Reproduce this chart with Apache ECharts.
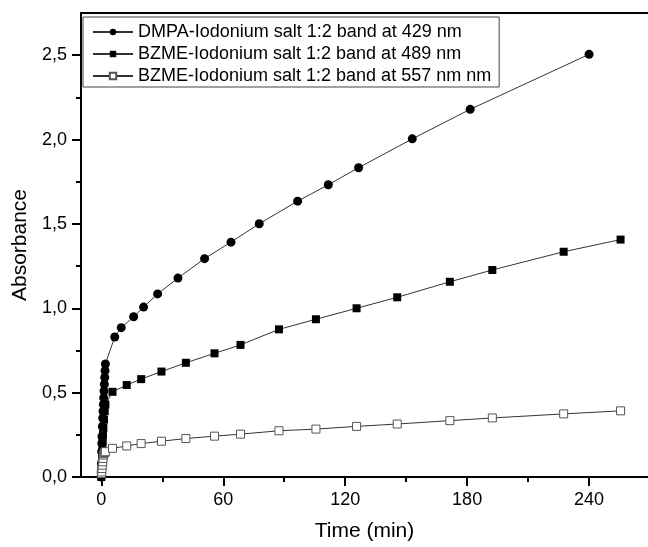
<!DOCTYPE html>
<html>
<head>
<meta charset="utf-8">
<script src="https://cdn.jsdelivr.net/npm/echarts@6/dist/echarts.min.js"></script>
<style>
  html, body { margin: 0; padding: 0; background: #fff; }
  #chart { width: 648px; height: 547px; }
</style>
</head>
<body>
<div id="chart"></div>
<script>
// DMPA band at 429 nm
const dmpaTime = [0, 0.08, 0.17, 0.25, 0.33, 0.5, 0.67, 0.83, 1.0, 1.17, 1.33, 1.5, 1.67, 1.83, 2.0,
    6.6, 9.8, 15.9, 20.8, 27.7, 37.7, 50.8, 63.8, 77.7, 96.6, 111.7, 126.6, 153, 181.5, 240];
const dmpaAbs = [0, 0.08, 0.15, 0.2, 0.24, 0.3, 0.35, 0.39, 0.43, 0.47, 0.51, 0.55, 0.59, 0.63, 0.67,
    0.83, 0.885, 0.95, 1.007, 1.085, 1.179, 1.294, 1.392, 1.501, 1.635, 1.732, 1.833, 2.004, 2.179, 2.505];

// BZME bands share the same sampling times
const bzmeTime = [0, 0.17, 0.33, 0.5, 0.67, 0.83, 1.0, 1.33, 1.67, 2.0,
    5.5, 12.5, 19.6, 29.6, 41.6, 55.7, 68.5, 87.4, 105.6, 125.6, 145.6, 171.5, 192.4, 227.5, 255.5];
const bzme489Abs = [0, 0.07, 0.12, 0.17, 0.21, 0.25, 0.29, 0.34, 0.39, 0.43,
    0.505, 0.545, 0.58, 0.625, 0.677, 0.733, 0.783, 0.875, 0.935, 1.0, 1.065, 1.157, 1.227, 1.335, 1.407];
const bzme557Abs = [0.02, 0.03, 0.05, 0.07, 0.09, 0.11, 0.13, 0.14, 0.145, 0.15,
    0.17, 0.184, 0.198, 0.212, 0.228, 0.242, 0.254, 0.274, 0.284, 0.30, 0.314, 0.334, 0.35, 0.374, 0.392];

const seriesNames = [
    'DMPA-Iodonium salt 1:2 band at 429 nm',
    'BZME-Iodonium salt 1:2 band at 489 nm',
    'BZME-Iodonium salt 1:2 band at 557 nm nm'
];

const xMajor = [0, 60, 120, 180, 240];
const xMinor = [30, 90, 150, 210];
const yMajor = [0, 0.5, 1.0, 1.5, 2.0, 2.5];
const yMinor = [0.25, 0.75, 1.25, 1.75, 2.25];

const pairs = (xs, ys) => xs.map((x, i) => [x, ys[i]]);

const font = '"Liberation Sans", Arial, sans-serif';
const black = '#000';

const chart = echarts.init(document.getElementById('chart'));

const xBase = { type: 'value', min: -10, max: 269, splitLine: { show: false } };
const yBase = { type: 'value', min: 0, max: 2.75, splitLine: { show: false } };

chart.setOption({
    animation: false,
    backgroundColor: '#fff',
    textStyle: { fontFamily: font },
    grid: { left: 81, right: 0, top: 13, bottom: 68 },
    legend: {
        orient: 'vertical',
        left: 83,
        top: 17,
        padding: [6, 8, 2, 9],
        itemGap: 4,
        itemWidth: 40,
        itemHeight: 8,
        backgroundColor: '#fff',
        borderColor: '#444',
        borderWidth: 1,
        borderRadius: 0,
        textStyle: { fontSize: 18, color: black, fontFamily: font, lineHeight: 18 },
        data: seriesNames
    },
    xAxis: [
        Object.assign({}, xBase, {
            position: 'bottom',
            axisLine: { onZero: false, lineStyle: { color: black, width: 2 } },
            axisTick: { customValues: xMajor, length: 9, lineStyle: { color: black, width: 2 } },
            axisLabel: { customValues: xMajor, fontSize: 18, color: black, margin: 14 },
            name: 'Time (min)',
            nameLocation: 'middle',
            nameGap: 44,
            nameTextStyle: { fontSize: 21, color: black }
        }),
        Object.assign({}, xBase, {
            position: 'bottom',
            axisLine: { show: false, onZero: false },
            axisTick: { customValues: xMinor, length: 5, lineStyle: { color: black, width: 2 } },
            axisLabel: { show: false }
        }),
        Object.assign({}, xBase, {
            position: 'top',
            axisLine: { onZero: false, lineStyle: { color: black, width: 2 } },
            axisTick: { show: false },
            axisLabel: { show: false }
        })
    ],
    yAxis: [
        Object.assign({}, yBase, {
            position: 'left',
            axisLine: { onZero: false, lineStyle: { color: black, width: 2 } },
            axisTick: { customValues: yMajor, length: 9, lineStyle: { color: black, width: 2 } },
            axisLabel: {
                customValues: yMajor,
                fontSize: 18,
                color: black,
                margin: 14,
                formatter: v => v.toFixed(1).replace('.', ',')
            },
            name: 'Absorbance',
            nameLocation: 'middle',
            nameGap: 48,
            nameTextStyle: { fontSize: 21, color: black }
        }),
        Object.assign({}, yBase, {
            position: 'left',
            axisLine: { show: false, onZero: false },
            axisTick: { customValues: yMinor, length: 5, lineStyle: { color: black, width: 2 } },
            axisLabel: { show: false }
        })
    ],
    series: [
        {
            name: seriesNames[0],
            type: 'line',
            data: pairs(dmpaTime, dmpaAbs),
            symbol: 'circle',
            symbolSize: 9,
            itemStyle: { color: black },
            lineStyle: { color: '#333', width: 1 },
            z: 3
        },
        {
            name: seriesNames[1],
            type: 'line',
            data: pairs(bzmeTime, bzme489Abs),
            symbol: 'rect',
            symbolSize: 8,
            itemStyle: { color: black },
            lineStyle: { color: '#333', width: 1 },
            z: 2
        },
        {
            name: seriesNames[2],
            type: 'line',
            data: pairs(bzmeTime, bzme557Abs),
            symbol: 'rect',
            symbolSize: 8,
            itemStyle: { color: '#fff', borderColor: '#555', borderWidth: 1 },
            lineStyle: { color: '#333', width: 1 },
            z: 4
        }
    ]
});
</script>
</body>
</html>
